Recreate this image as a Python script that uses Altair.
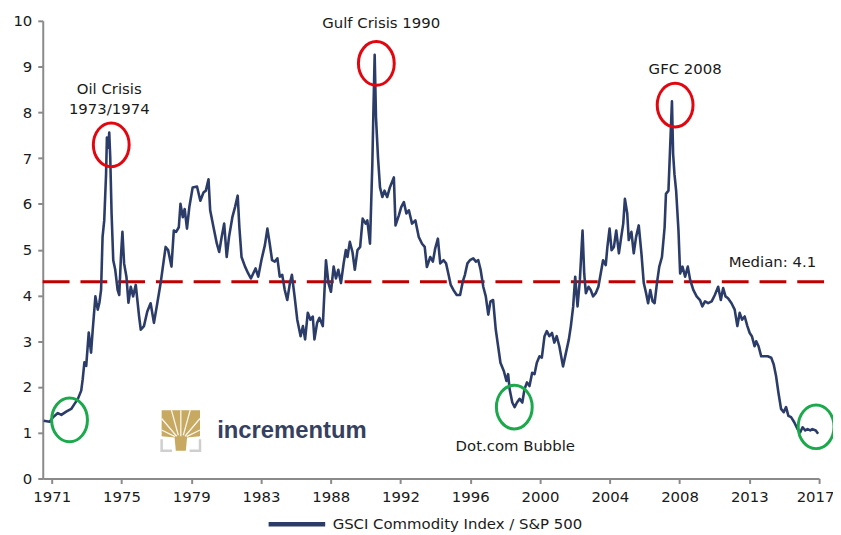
import json
import altair as alt
import pandas as pd

# ---- series: GSCI Commodity Index / S&P 500 ----
years = [
    1970.52, 1970.88, 1971.08, 1971.37, 1971.58, 1971.87, 1972.17, 1972.37, 1972.57, 1972.77,
    1972.86, 1972.96, 1973.07, 1973.22, 1973.36, 1973.46, 1973.62, 1973.76, 1973.86, 1973.96,
    1974.05, 1974.15, 1974.26, 1974.31, 1974.39, 1974.45, 1974.51, 1974.59, 1974.69, 1974.81,
    1974.95, 1975.05, 1975.15, 1975.24, 1975.34, 1975.48, 1975.60, 1975.74, 1975.88, 1976.04,
    1976.24, 1976.34, 1976.53, 1976.73, 1976.93, 1977.13, 1977.33, 1977.53, 1977.72, 1977.83,
    1977.98, 1978.18, 1978.32, 1978.46, 1978.62, 1978.72, 1978.86, 1978.97, 1979.11, 1979.25,
    1979.45, 1979.71, 1979.91, 1980.10, 1980.24, 1980.40, 1980.50, 1980.70, 1980.90, 1981.04,
    1981.19, 1981.34, 1981.49, 1981.63, 1981.83, 1981.99, 1982.15, 1982.25, 1982.38, 1982.59,
    1982.78, 1982.94, 1983.08, 1983.22, 1983.38, 1983.57, 1983.78, 1983.93, 1984.07, 1984.21,
    1984.37, 1984.53, 1984.67, 1984.82, 1984.97, 1985.12, 1985.28, 1985.40, 1985.56, 1985.72,
    1985.86, 1985.92, 1986.06, 1986.19, 1986.35, 1986.51, 1986.65, 1986.75, 1986.91, 1987.05,
    1987.25, 1987.44, 1987.59, 1987.74, 1987.90, 1988.04, 1988.18, 1988.34, 1988.50, 1988.63,
    1988.73, 1988.87, 1989.03, 1989.17, 1989.33, 1989.49, 1989.64, 1989.82, 1989.92, 1990.08,
    1990.22, 1990.28, 1990.36, 1990.44, 1990.56, 1990.68, 1990.82, 1990.95, 1991.11, 1991.27,
    1991.51, 1991.61, 1991.81, 1991.95, 1992.11, 1992.26, 1992.41, 1992.60, 1992.80, 1993.00,
    1993.20, 1993.36, 1993.49, 1993.69, 1993.85, 1993.99, 1994.15, 1994.29, 1994.49, 1994.64,
    1994.79, 1994.92, 1995.08, 1995.28, 1995.48, 1995.64, 1995.77, 1995.92, 1996.07, 1996.27,
    1996.43, 1996.57, 1996.71, 1996.87, 1997.02, 1997.17, 1997.30, 1997.46, 1997.62, 1997.76,
    1997.90, 1998.10, 1998.26, 1998.36, 1998.45, 1998.61, 1998.75, 1998.89, 1999.05, 1999.21,
    1999.34, 1999.49, 1999.64, 1999.80, 1999.94, 2000.08, 2000.24, 2000.38, 2000.54, 2000.68,
    2000.83, 2000.99, 2001.13, 2001.27, 2001.43, 2001.65, 2002.00, 2002.12, 2002.26, 2002.38,
    2002.52, 2002.66, 2002.82, 2002.92, 2003.02, 2003.18, 2003.31, 2003.45, 2003.61, 2003.77,
    2003.91, 2004.05, 2004.21, 2004.31, 2004.44, 2004.56, 2004.70, 2004.84, 2005.00, 2005.14,
    2005.26, 2005.36, 2005.50, 2005.59, 2005.75, 2005.89, 2006.03, 2006.19, 2006.35, 2006.49,
    2006.63, 2006.75, 2006.88, 2007.02, 2007.14, 2007.28, 2007.42, 2007.58, 2007.74, 2007.82,
    2007.97, 2008.07, 2008.18, 2008.25, 2008.33, 2008.43, 2008.57, 2008.67, 2008.81, 2008.97,
    2009.13, 2009.27, 2009.46, 2009.66, 2009.86, 2010.00, 2010.16, 2010.35, 2010.56, 2010.75,
    2010.95, 2011.11, 2011.25, 2011.39, 2011.54, 2011.75, 2011.94, 2012.10, 2012.24, 2012.38,
    2012.54, 2012.70, 2012.84, 2012.97, 2013.13, 2013.23, 2013.37, 2013.53, 2013.73, 2013.92,
    2014.13, 2014.28, 2014.42, 2014.56, 2014.72, 2014.88, 2015.02, 2015.16, 2015.32, 2015.51,
    2015.71, 2015.87, 2016.01, 2016.17, 2016.31, 2016.47, 2016.60, 2016.80, 2016.94,
]
ratio = [
    1.26, 1.24, 1.34, 1.43, 1.39, 1.46, 1.52, 1.63, 1.74, 1.92,
    2.17, 2.54, 2.46, 3.19, 2.75, 3.25, 3.98, 3.69, 3.84, 4.12,
    5.28, 5.64, 6.66, 7.45, 7.23, 7.56, 7.01, 5.79, 4.77, 4.56,
    4.12, 4.01, 4.84, 5.39, 4.70, 4.41, 3.84, 4.19, 3.98, 4.23,
    3.54, 3.25, 3.33, 3.65, 3.83, 3.40, 3.83, 4.27, 4.77, 5.06,
    4.99, 4.63, 5.42, 5.39, 5.49, 6.00, 5.71, 5.89, 5.46, 5.93,
    6.36, 6.38, 6.07, 6.25, 6.29, 6.54, 5.86, 5.49, 5.13, 4.95,
    5.28, 5.57, 4.84, 5.28, 5.71, 5.93, 6.18, 5.49, 4.84, 4.63,
    4.48, 4.37, 4.48, 4.59, 4.41, 4.77, 5.10, 5.46, 5.13, 4.77,
    4.74, 4.81, 4.41, 4.45, 4.12, 3.90, 4.27, 4.45, 3.98, 3.47,
    3.22, 3.11, 3.33, 3.04, 3.62, 3.47, 3.54, 3.04, 3.40, 3.51,
    3.33, 4.77, 4.27, 4.08, 4.63, 4.37, 4.56, 4.27, 4.70, 4.99,
    4.84, 5.17, 4.95, 4.56, 4.99, 5.06, 5.68, 5.57, 5.64, 5.13,
    6.87, 7.95, 9.26, 7.88, 7.01, 6.36, 6.15, 6.29, 6.15, 6.36,
    6.58, 5.53, 5.75, 5.93, 6.04, 5.79, 5.86, 5.57, 5.64, 5.28,
    5.13, 5.06, 4.62, 4.84, 4.74, 5.03, 5.24, 4.70, 4.77, 4.70,
    4.45, 4.23, 4.12, 4.01, 4.01, 4.30, 4.45, 4.70, 4.77, 4.81,
    4.74, 4.77, 4.56, 4.19, 3.98, 3.58, 3.87, 3.90, 3.25, 2.89,
    2.53, 2.35, 2.13, 2.28, 1.95, 1.66, 1.56, 1.66, 1.74, 1.66,
    1.95, 2.10, 2.02, 2.31, 2.28, 2.53, 2.67, 2.64, 3.11, 3.22,
    3.11, 3.18, 2.97, 3.11, 2.89, 2.45, 3.04, 3.33, 3.76, 4.41,
    3.76, 4.34, 5.42, 4.48, 4.05, 4.19, 4.12, 3.98, 4.05, 4.19,
    4.48, 4.77, 4.66, 5.06, 5.46, 4.99, 5.06, 5.42, 4.92, 5.28,
    5.57, 6.11, 5.79, 5.21, 5.39, 4.92, 5.28, 5.53, 4.92, 4.27,
    4.05, 3.83, 4.12, 3.87, 3.83, 4.27, 4.63, 4.84, 5.49, 6.22,
    6.29, 7.23, 8.24, 7.09, 6.65, 6.29, 5.42, 4.48, 4.63, 4.41,
    4.63, 4.34, 4.12, 3.98, 3.90, 3.76, 3.87, 3.83, 3.87, 4.01,
    4.19, 3.90, 4.16, 3.98, 3.94, 3.83, 3.69, 3.33, 3.62, 3.47,
    3.54, 3.33, 3.18, 3.11, 2.89, 3.00, 2.89, 2.67, 2.67, 2.67,
    2.64, 2.49, 2.24, 1.88, 1.52, 1.45, 1.56, 1.37, 1.34, 1.23,
    1.08, 1.01, 1.12, 1.05, 1.08, 1.05, 1.08, 1.05, 0.98,
]
series_name = "GSCI Commodity Index / S&P 500"

# ---- axes ----
x_tick_labels = ["1971", "1975", "1979", "1983", "1988", "1992",
                 "1996", "2000", "2004", "2008", "2013", "2017"]
x_first, x_last = 1971.0, 2017.0
y_ticks = [0, 1, 2, 3, 4, 5, 6, 7, 8, 9, 10]

# ---- median line ----
median_level = 4.3
median_label = "Median: 4.1"
median_label_x, median_label_y = 2014.2, 4.73

# ---- annotations ----
red_circle_x = [1974.57, 1990.46, 2008.37]
red_circle_y = [7.29, 9.07, 8.16]
green_circle_x = [1972.07, 1998.73, 2016.82]
green_circle_y = [1.28, 1.56, 1.13]
note_text = ["Oil Crisis", "1973/1974", "Gulf Crisis 1990", "GFC 2008", "Dot.com Bubble"]
note_x = [1974.45, 1974.45, 1990.75, 2008.97, 1998.79]
note_y = [8.50, 8.07, 9.96, 8.94, 0.72]

logo_text = "incrementum"
logo_text_x, logo_text_y = 1985.40, 1.04
logo_icon_x, logo_icon_y = 1978.74, 1.06

# ---------------------------------------------------------------
NAVY = "#2C3C69"
FONT = "DejaVu Sans"
TXT = "#1a1a1a"
AX = "#8a8a8a"

x_min = 1970.464
step = (x_last - x_first) / (len(x_tick_labels) - 1)
x_tick_vals = [x_first + i * step for i in range(len(x_tick_labels))]
label_expr = (json.dumps(x_tick_labels) +
              f"[round((datum.value - {x_first}) / {step})]")

x_enc = alt.X("x:Q",
              scale=alt.Scale(domain=[x_min, x_last], nice=False, zero=False),
              axis=alt.Axis(values=x_tick_vals, labelExpr=label_expr, title=None,
                            grid=False, labelFlush=True, labelFlushOffset=15,
                            labelOverlap=False))
y_enc = alt.Y("y:Q",
              scale=alt.Scale(domain=[0, 10], nice=False),
              axis=alt.Axis(values=y_ticks, format="d", title=None, grid=False))

line_df = pd.DataFrame({"x": years, "y": ratio, "series": series_name})
line = alt.Chart(line_df).mark_line(strokeWidth=2.6, strokeJoin="round").encode(
    x=x_enc, y=y_enc,
    color=alt.Color("series:N", scale=alt.Scale(range=[NAVY]),
                    legend=alt.Legend(orient="none", legendX=225, legendY=476,
                                      title=None, symbolType="stroke",
                                      symbolSize=3249, symbolStrokeWidth=4.5,
                                      labelFont=FONT, labelFontSize=15,
                                      labelColor=TXT, labelOffset=5,
                                      labelLimit=0, padding=0)),
)

median_df = pd.DataFrame({"x": [x_min], "x2": [2017.65], "y": [median_level]})
median = alt.Chart(median_df).mark_rule(
    color="#C00000", strokeWidth=3, strokeDash=[27, 11]
).encode(x=x_enc, x2="x2:Q", y=y_enc)

median_txt_df = pd.DataFrame({"x": [median_label_x], "y": [median_label_y],
                              "t": [median_label]})
median_txt = alt.Chart(median_txt_df).mark_text(
    font=FONT, fontSize=15, color=TXT).encode(x=x_enc, y=y_enc, text="t:N")

ELLIPSE = "M-0.82,0 A0.82,1 0 1,0 0.82,0 A0.82,1 0 1,0 -0.82,0 Z"
red_df = pd.DataFrame({"x": red_circle_x, "y": red_circle_y})
red = alt.Chart(red_df).mark_point(
    shape=ELLIPSE, size=1936, filled=False, strokeWidth=3, color="#E3060F", opacity=1
).encode(x=x_enc, y=y_enc)
green_df = pd.DataFrame({"x": green_circle_x, "y": green_circle_y})
green = alt.Chart(green_df).mark_point(
    shape=ELLIPSE, size=1936, filled=False, strokeWidth=3, color="#1BA94C", opacity=1
).encode(x=x_enc, y=y_enc)

notes_df = pd.DataFrame({"x": note_x, "y": note_y, "t": note_text})
notes = alt.Chart(notes_df).mark_text(font=FONT, fontSize=15, color=TXT).encode(
    x=x_enc, y=y_enc, text="t:N")

logo_df = pd.DataFrame({"x": [logo_text_x], "y": [logo_text_y], "t": [logo_text]})
logo = alt.Chart(logo_df).mark_text(
    font="Liberation Sans", fontSize=24, fontWeight="bold", color="#35415F"
).encode(x=x_enc, y=y_enc, text="t:N")

TREE = ("M-0.92,-0.95 L0.92,-0.95 L0.92,0.3 L0.3,0.36 L0.24,1 L-0.24,1 "
        "L-0.3,0.36 L-0.92,0.3 Z")
BRANCHES = ("M0,0.3 L0,-0.95 M-0.12,0.25 L-0.45,-0.95 M0.12,0.25 L0.45,-0.95 "
            "M-0.2,0.3 L-0.92,-0.55 M0.2,0.3 L0.92,-0.55 M-0.28,0.32 L-0.92,0.0 "
            "M0.28,0.32 L0.92,0.0")
BRACKET = "M-0.92,0.45 L-0.92,1 L-0.42,1 M0.42,1 L0.92,1 L0.92,0.45"
icon_df = pd.DataFrame({"x": [logo_icon_x], "y": [logo_icon_y]})
icon_bracket = alt.Chart(icon_df).mark_point(
    shape=BRACKET, size=1764, filled=False, strokeWidth=2.5, color="#CFCFCF", opacity=1
).encode(x=x_enc, y=y_enc)
icon_tree = alt.Chart(icon_df).mark_point(
    shape=TREE, size=1764, filled=True, color="#C8A962", opacity=1, strokeWidth=0
).encode(x=x_enc, y=y_enc)
icon_branches = alt.Chart(icon_df).mark_point(
    shape=BRANCHES, size=1764, filled=False, strokeWidth=1.3, color="#FFFFFF", opacity=0.9
).encode(x=x_enc, y=y_enc)

chart = alt.layer(
    icon_bracket, icon_tree, icon_branches, logo, median, line, median_txt,
    red, green, notes
).properties(
    width=782, height=461,
    autosize=alt.AutoSizeParams(type="none"),
    padding={"left": 35, "top": 11, "right": 14, "bottom": 58},
    background="white",
).configure_view(stroke=None).configure_axis(
    domainColor=AX, domainWidth=2, tickColor=AX, tickWidth=2, tickSize=5,
    labelFont=FONT, labelFontSize=15, labelColor=TXT, labelPadding=6,
)

chart.save("out.html", embed_options={"renderer": "svg", "actions": False})
